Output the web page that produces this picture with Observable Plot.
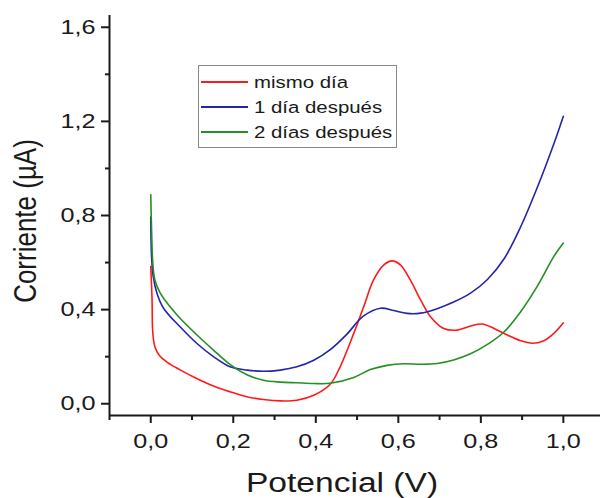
<!DOCTYPE html>
<html><head><meta charset="utf-8">
<script src="https://cdn.jsdelivr.net/npm/d3@7"></script>
<script src="https://cdn.jsdelivr.net/npm/@observablehq/plot@0.6"></script>
<style>body{margin:0;background:#fff}svg{display:block}</style>
</head><body>
<div id="chart"></div>
<script>
const seriesNames = ["mismo día", "1 día después", "2 días después"];
const seriesColors = ["#ff1a1a", "#2424ac", "#249024"];

const mismoX = [0, 0.003, 0.005, 0.01, 0.02, 0.04, 0.07, 0.11, 0.152, 0.192, 0.233, 0.273, 0.314, 0.354, 0.395, 0.435, 0.459, 0.492, 0.516, 0.540, 0.565, 0.585, 0.605, 0.629, 0.654, 0.678, 0.710, 0.743, 0.775, 0.803, 0.832, 0.864, 0.896, 0.925, 0.953, 0.977, 1.0];
const mismoY = [0.583, 0.45, 0.30, 0.242, 0.207, 0.176, 0.145, 0.108, 0.075, 0.051, 0.03, 0.018, 0.012, 0.015, 0.036, 0.083, 0.157, 0.299, 0.412, 0.526, 0.59, 0.607, 0.59, 0.526, 0.441, 0.37, 0.32, 0.313, 0.33, 0.339, 0.32, 0.292, 0.268, 0.257, 0.268, 0.299, 0.344];

const unDiaX = [0, 0.002, 0.006, 0.015, 0.031, 0.071, 0.112, 0.152, 0.192, 0.233, 0.273, 0.314, 0.354, 0.395, 0.435, 0.475, 0.515, 0.557, 0.589, 0.621, 0.654, 0.694, 0.734, 0.775, 0.816, 0.856, 0.896, 0.937, 0.977, 1.0];
const unDiaY = [0.793, 0.626, 0.54, 0.47, 0.406, 0.327, 0.256, 0.20, 0.157, 0.143, 0.138, 0.143, 0.157, 0.185, 0.23, 0.295, 0.372, 0.406, 0.396, 0.384, 0.385, 0.404, 0.432, 0.47, 0.528, 0.615, 0.75, 0.92, 1.105, 1.222];

const dosDiasX = [0, 0.002, 0.005, 0.01, 0.023, 0.047, 0.071, 0.112, 0.152, 0.192, 0.233, 0.273, 0.314, 0.354, 0.395, 0.435, 0.492, 0.532, 0.573, 0.613, 0.654, 0.694, 0.734, 0.775, 0.816, 0.856, 0.896, 0.937, 0.977, 1.0];
const dosDiasY = [0.888, 0.739, 0.597, 0.526, 0.47, 0.412, 0.363, 0.292, 0.228, 0.167, 0.123, 0.10, 0.092, 0.089, 0.086, 0.087, 0.112, 0.145, 0.163, 0.17, 0.168, 0.171, 0.186, 0.212, 0.252, 0.305, 0.39, 0.5, 0.626, 0.683];

const xMajorTicks = [0, 0.2, 0.4, 0.6, 0.8, 1.0];
const xMinorTicks = [-0.1, 0.1, 0.3, 0.5, 0.7, 0.9];
const yMajorTicks = [0, 0.4, 0.8, 1.2, 1.6];
const yMinorTicks = [0.2, 0.6, 1.0, 1.4];
const xTitle = "Potencial (V)";
const yTitle = "Corriente (µA)";

const seriesX = [mismoX, unDiaX, dosDiasX];
const seriesY = [mismoY, unDiaY, dosDiasY];
const data = seriesNames.flatMap((s, k) => seriesX[k].map((x, i) => ({x, y: seriesY[k][i], s})));

const fmt = d => d.toFixed(1).replace(".", ",");
const FONT = "'Liberation Sans', Arial, sans-serif";
const INK = "#1a1a1a";
const SX = 1.2; // horizontal stretch of the reference's lettering

const chart = Plot.plot({
  width: 600, height: 498,
  marginLeft: 109, marginRight: 0, marginTop: 15, marginBottom: 83,
  x: {domain: [-0.1, 1.09]},
  y: {domain: [-0.05, 1.65]},
  color: {domain: seriesNames, range: seriesColors},
  style: {fontFamily: FONT, fontSize: "21px", color: INK, background: "#fff"},
  marks: [
    Plot.line(data, {x: "x", y: "y", z: "s", stroke: "s", strokeWidth: 1.6, curve: "catmull-rom"}),
    Plot.axisY({ticks: yMajorTicks, tickSize: 8, tickPadding: 6, tickFormat: fmt, label: null, strokeWidth: 2, fontSize: 21}),
    Plot.axisY({ticks: yMinorTicks, tickSize: 4, tickFormat: null, text: null, label: null, strokeWidth: 2}),
    Plot.axisX({ticks: xMajorTicks, tickSize: 8, tickPadding: 10, tickFormat: fmt, label: null, strokeWidth: 2, fontSize: 21}),
    Plot.axisX({ticks: xMinorTicks, tickSize: 5, tickFormat: null, text: null, label: null, strokeWidth: 2}),
    Plot.ruleX([-0.1], {strokeWidth: 2, stroke: INK}),
    Plot.ruleY([-0.05], {strokeWidth: 2, stroke: INK})
  ]
});
document.getElementById("chart").appendChild(chart);

const svg = d3.select(chart);
const NS = "http://www.w3.org/2000/svg";

// horizontal stretch of Plot's tick labels around their anchor point
svg.selectAll("text").each(function() {
  const anchor = getComputedStyle(this).textAnchor;
  const r = this.getBoundingClientRect();
  if (!r.width) return;
  const ax = anchor === "end" ? r.right : anchor === "middle" ? (r.left + r.right) / 2 : r.left;
  const m = this.parentNode.getScreenCTM();
  const px = (ax - m.e) / m.a;
  const g = document.createElementNS(NS, "g");
  this.parentNode.insertBefore(g, this);
  g.appendChild(this);
  g.setAttribute("transform", `translate(${px},0) scale(${SX},1) translate(${-px},0)`);
});

// axis titles
svg.append("text")
  .attr("transform", `translate(342,492) scale(${SX},1)`).attr("text-anchor", "middle")
  .attr("font-size", 28).attr("fill", INK).attr("font-family", FONT).text(xTitle);
svg.append("text")
  .attr("transform", `translate(36,221) scale(${SX},1) rotate(-90)`)
  .attr("text-anchor", "middle").attr("font-size", 26).attr("fill", INK)
  .attr("font-family", FONT).text(yTitle);

// legend
const lg = svg.append("g");
lg.append("rect").attr("x", 198.5).attr("y", 65.5).attr("width", 198).attr("height", 82)
  .attr("fill", "#fff").attr("stroke", "#8a8a8a").attr("stroke-width", 1);
seriesNames.forEach((name, i) => {
  const cy = 82 + i * 25;
  lg.append("line").attr("x1", 201).attr("x2", 248).attr("y1", cy).attr("y2", cy)
    .attr("stroke", seriesColors[i]).attr("stroke-width", 2);
  lg.append("text").attr("transform", `translate(254,${cy + 5.5}) scale(${SX},1)`)
    .attr("text-anchor", "start")
    .attr("font-size", 17).attr("fill", INK).attr("font-family", FONT).text(name);
});
</script>
</body></html>
